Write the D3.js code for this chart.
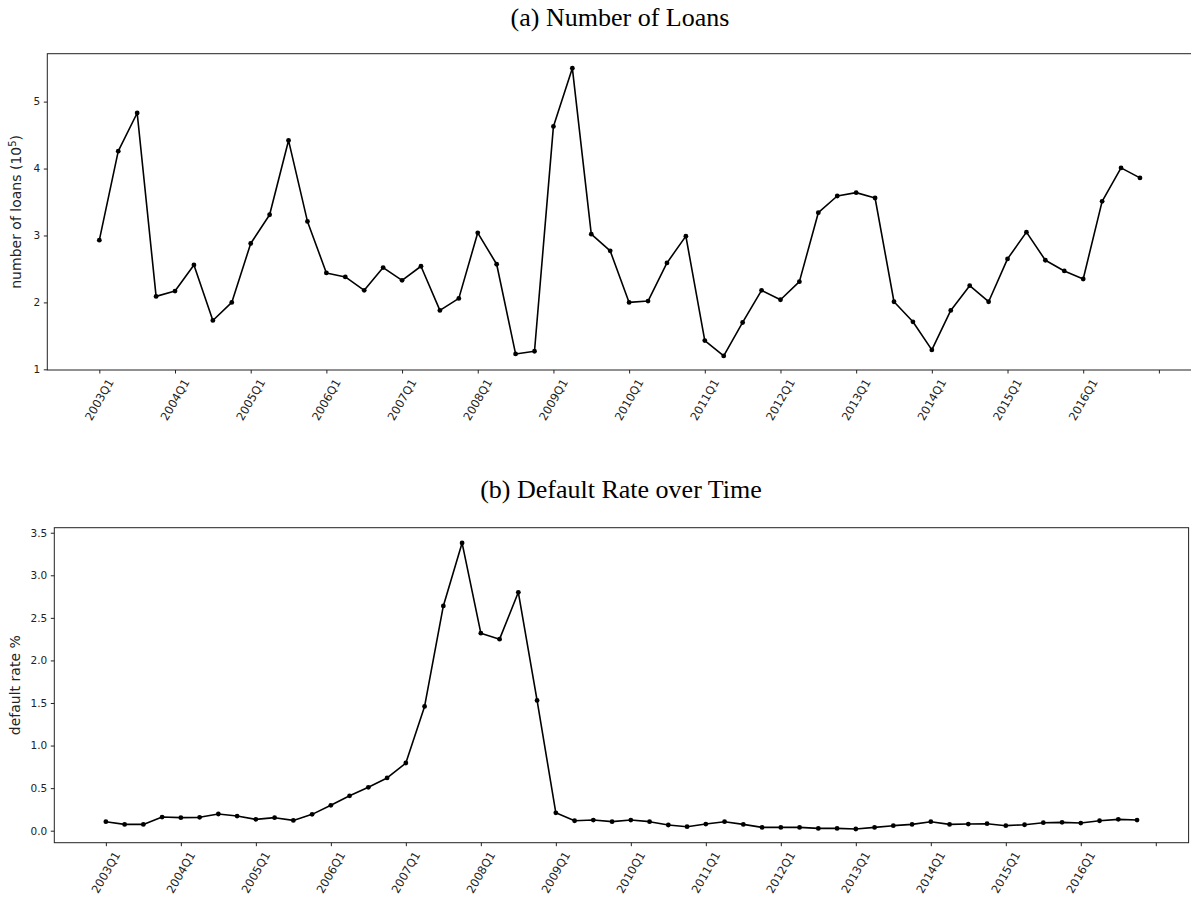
<!DOCTYPE html>
<html><head><meta charset="utf-8">
<script src="https://cdn.jsdelivr.net/npm/d3@7"></script>
<style>body{margin:0;background:#fff} svg{display:block}</style>
</head><body>
<svg id="c" width="1191" height="903"></svg>
<script>
const years = [2003,2004,2005,2006,2007,2008,2009,2010,2011,2012,2013,2014,2015,2016];
const quarters = years.flatMap(y => [1,2,3,4].map(q => y + "Q" + q));
const loans = [
  2.93, 4.26, 4.83, 2.09,
  2.17, 2.56, 1.73, 2.00,
  2.88, 3.31, 4.42, 3.21,
  2.44, 2.38, 2.18, 2.52,
  2.33, 2.54, 1.88, 2.06,
  3.04, 2.57, 1.23, 1.27,
  4.63, 5.50, 3.02, 2.77,
  2.00, 2.02, 2.59, 2.99,
  1.43, 1.20, 1.70, 2.18,
  2.04, 2.31, 3.34, 3.59,
  3.64, 3.56, 2.01, 1.71,
  1.29, 1.88, 2.25, 2.01,
  2.65, 3.05, 2.63, 2.47,
  2.35, 3.51, 4.01, 3.86
];
const defaultRate = [
  0.106, 0.074, 0.074, 0.160,
  0.153, 0.157, 0.196, 0.172,
  0.133, 0.153, 0.121, 0.192,
  0.298, 0.410, 0.510, 0.620,
  0.795, 1.460, 2.640, 3.380,
  2.320, 2.250, 2.800, 1.530,
  0.210, 0.117, 0.125, 0.106,
  0.125, 0.106, 0.067, 0.047,
  0.078, 0.106, 0.074, 0.039,
  0.039, 0.039, 0.027, 0.027,
  0.020, 0.039, 0.059, 0.074,
  0.106, 0.074, 0.078, 0.082,
  0.059, 0.070, 0.094, 0.098,
  0.090, 0.117, 0.133, 0.125
];
const tickLabels = ["2003Q1","2004Q1","2005Q1","2006Q1","2007Q1","2008Q1","2009Q1",
  "2010Q1","2011Q1","2012Q1","2013Q1","2014Q1","2015Q1","2016Q1",""];
const loanTicks = [1,2,3,4,5];
const rateTicks = [0.0,0.5,1.0,1.5,2.0,2.5,3.0,3.5];

const svg = d3.select("#c");
const FONT = "'DejaVu Sans', sans-serif";
const SERIF = "'Liberation Serif', 'DejaVu Serif', serif";

function panel(cfg) {
  const g = svg.append("g");
  const x = d3.scaleLinear().domain([-2.75, 57.75]).range([cfg.left, cfg.right]);
  const y = d3.scaleLinear().domain(cfg.yDomain).range([cfg.bottom, cfg.top]);

  g.append("text").attr("x", cfg.titleX).attr("y", cfg.titleY)
    .attr("text-anchor", "middle").attr("font-family", SERIF).attr("font-size", 26)
    .attr("fill", "#000").text(cfg.title);

  g.append("rect").attr("x", cfg.left).attr("y", cfg.top)
    .attr("width", cfg.right - cfg.left).attr("height", cfg.bottom - cfg.top)
    .attr("fill", "none").attr("stroke", "#222").attr("stroke-width", 1);

  const ya = d3.axisLeft(y).tickValues(cfg.yTicks).tickSize(3.5).tickPadding(3.5)
    .tickFormat(cfg.yFormat);
  const yg = g.append("g").attr("transform", `translate(${cfg.left},0)`).call(ya);
  yg.select(".domain").remove();
  yg.selectAll(".tick line").attr("stroke", "#222");
  yg.selectAll(".tick text").attr("font-family", FONT).attr("font-size", 10.5).attr("fill", "#222");

  const tickIdx = tickLabels.map((_, i) => i * 4);
  const xa = d3.axisBottom(x).tickValues(tickIdx).tickSize(3.5).tickFormat(() => "");
  const xg = g.append("g").attr("transform", `translate(0,${cfg.bottom})`).call(xa);
  xg.select(".domain").remove();
  xg.selectAll(".tick line").attr("stroke", "#222");
  xg.selectAll(".tick text").remove();

  const lab = g.append("g");
  tickIdx.forEach((v, i) => {
    if (!tickLabels[i]) return;
    const t = lab.append("text").attr("font-family", FONT).attr("font-size", 11.5)
      .attr("fill", "#222").attr("text-anchor", "middle").attr("dominant-baseline", "central")
      .text(tickLabels[i]);
    const L = t.node().getComputedTextLength();
    const h = 12;
    const H = L * Math.sin(Math.PI / 3) + h * Math.cos(Math.PI / 3);
    const cx = x(v), cy = cfg.bottom + 7 + H / 2;
    t.attr("transform", `translate(${cx},${cy}) rotate(-60)`);
  });

  const yl = g.append("text").attr("transform", `translate(${cfg.ylabX},${(cfg.top + cfg.bottom) / 2}) rotate(-90)`)
    .attr("text-anchor", "middle").attr("font-family", FONT).attr("font-size", 14).attr("fill", "#222");
  cfg.ylabel(yl);

  const line = d3.line().x((d, i) => x(i)).y(d => y(d));
  g.append("path").datum(cfg.data).attr("d", line).attr("fill", "none")
    .attr("stroke", "#000").attr("stroke-width", 1.6).attr("stroke-linejoin", "round");
  g.selectAll("circle.m").data(cfg.data).enter().append("circle").attr("class", "m")
    .attr("cx", (d, i) => x(i)).attr("cy", d => y(d)).attr("r", 2.4).attr("fill", "#000");
}

panel({
  title: "(a) Number of Loans", titleX: 620, titleY: 26,
  left: 47.3, right: 1192, top: 53.7, bottom: 370,
  yDomain: [0.99, 5.716], yTicks: loanTicks, yFormat: d3.format("d"),
  data: loans, ylabX: 21,
  ylabel: t => { t.append("tspan").text("number of loans (10");
                 t.append("tspan").attr("font-size", 10).attr("dy", -5).text("5");
                 t.append("tspan").attr("dy", 5).text(")"); }
});

panel({
  title: "(b) Default Rate over Time", titleX: 621, titleY: 498,
  left: 54.3, right: 1188.6, top: 527.7, bottom: 842.7,
  yDomain: [-0.141, 3.559], yTicks: rateTicks, yFormat: d3.format(".1f"),
  data: defaultRate, ylabX: 20,
  ylabel: t => t.text("default rate %")
});
</script>
</body></html>
